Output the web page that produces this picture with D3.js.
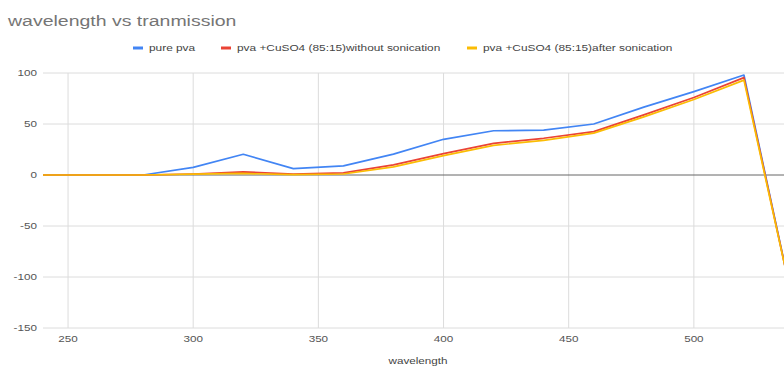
<!DOCTYPE html>
<html>
<head>
<meta charset="utf-8">
<script src="https://cdn.jsdelivr.net/npm/d3@7"></script>
<style>
  html, body { margin: 0; padding: 0; background: #fff; overflow: hidden; }
  svg { display: block; font-family: Arial, "Liberation Sans", sans-serif; }
</style>
</head>
<body>
<svg id="chart" width="784" height="367"></svg>
<script>
// Wavelength (nm) sampled every 20 nm
const wavelengths = [240, 260, 280, 300, 320, 340, 360, 380, 400, 420, 440, 460, 480, 500, 520, 540];

// Transmission for each sample
const purePva      = [0, 0, 0, 7.5, 20.3, 6.3, 9, 20.5, 35, 43.4, 44, 50, 66.5, 81.7, 98, -130];
const withoutSonic = [0, 0, 0, 1, 3, 1, 2, 10, 21, 31, 36, 42.5, 59, 76, 95.5, -130];
const afterSonic   = [0, 0, 0, 0.8, 1.5, 0.3, 1, 8, 19, 29, 34, 41, 57, 74, 93, -130];

const seriesNames = ["pure pva", "pva +CuSO4 (85:15)without sonication", "pva +CuSO4 (85:15)after sonication"];
const seriesColors = ["#4285F4", "#EA4335", "#FBBC04"];
const seriesValues = [purePva, withoutSonic, afterSonic];

const xTicks = [250, 300, 350, 400, 450, 500];
const yTicks = [-150, -100, -50, 0, 50, 100];

const chartTitle = "wavelength vs tranmission";
const xAxisTitle = "wavelength";

const svg = d3.select("#chart");
const W = 784, H = 367;
const plot = { left: 43, right: 794, top: 73, bottom: 328 };
const stretch = 1.3; // text is drawn slightly wide

const x = d3.scaleLinear().domain([240, 540]).range([plot.left, plot.right]);
const y = d3.scaleLinear().domain([-150, 100]).range([plot.bottom, plot.top]);

// Places a horizontally stretched text label
function label(parent, px, py, str, size, fill, anchor, sx) {
  return parent.append("text")
    .attr("transform", `translate(${px},${py}) scale(${sx || stretch},1)`)
    .attr("text-anchor", anchor || "start")
    .attr("font-size", size)
    .attr("fill", fill)
    .text(str);
}

// Title
label(svg, 8, 26, chartTitle, 15, "#757575");

// Legend
const legendX = [133, 221, 467];
const legend = svg.append("g");
seriesNames.forEach((name, i) => {
  const g = legend.append("g").attr("transform", `translate(${legendX[i]},48)`);
  g.append("line").attr("x1", 0).attr("x2", 10).attr("y1", 0).attr("y2", 0)
    .attr("stroke", seriesColors[i]).attr("stroke-width", 3);
  label(g, 16, 3.3, name, 9, "#444", "start", 1.32);
});

// Grid
const grid = svg.append("g");
grid.selectAll("line.h").data(yTicks.filter(d => d !== 0)).join("line")
  .attr("x1", plot.left).attr("x2", W)
  .attr("y1", d => y(d)).attr("y2", d => y(d))
  .attr("stroke", "#dcdcdc").attr("stroke-width", 1);
grid.selectAll("line.v").data(xTicks).join("line")
  .attr("x1", d => x(d)).attr("x2", d => x(d))
  .attr("y1", plot.top).attr("y2", plot.bottom)
  .attr("stroke", "#dcdcdc").attr("stroke-width", 1);

// Baseline at zero
svg.append("line")
  .attr("x1", plot.left).attr("x2", W)
  .attr("y1", y(0)).attr("y2", y(0))
  .attr("stroke", "#666").attr("stroke-width", 1);

// Y tick labels
const yLab = svg.append("g");
yTicks.forEach(d => label(yLab, 37, y(d) + 3, d, 9, "#555", "end"));

// X tick labels
const xLab = svg.append("g");
xTicks.forEach(d => label(xLab, x(d), 342, d, 9, "#555", "middle"));

// X axis title
label(svg, 418, 364, xAxisTitle, 9, "#444", "middle");

// Series lines
const line = d3.line()
  .x((d, i) => x(wavelengths[i]))
  .y(d => y(d));

svg.append("g").selectAll("path").data(seriesValues).join("path")
  .attr("d", d => line(d))
  .attr("fill", "none")
  .attr("stroke", (d, i) => seriesColors[i])
  .attr("stroke-width", 1.7)
  .attr("stroke-linejoin", "round");
</script>
</body>
</html>
